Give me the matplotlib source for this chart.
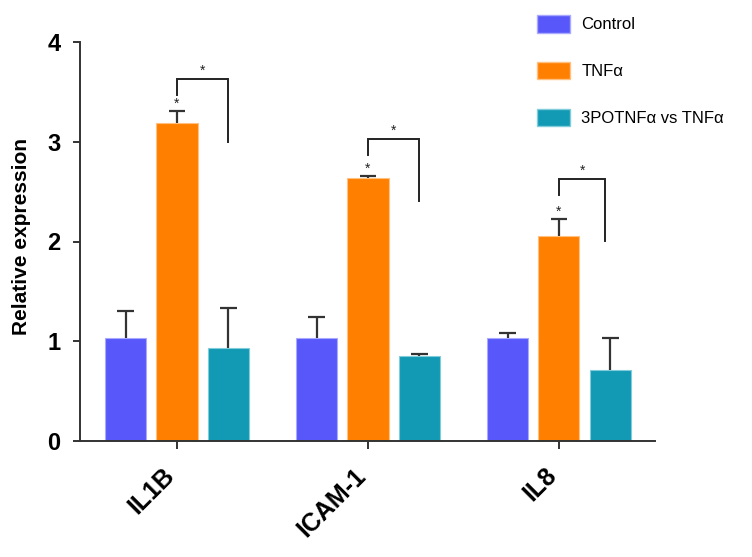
import matplotlib
matplotlib.use("Agg")
import matplotlib.pyplot as plt
from matplotlib.patches import Patch
from matplotlib.transforms import ScaledTranslation
import numpy as np

plt.rcParams['font.family'] = ['Liberation Sans', 'DejaVu Sans']

genes = ["IL1B", "ICAM-1", "IL8"]
series = ["Control", "TNF\u03b1", "3POTNF\u03b1 vs TNF\u03b1"]
control = [1.03, 1.035, 1.03]
control_err = [0.275, 0.205, 0.055]
tnf = [3.19, 2.64, 2.06]
tnf_err = [0.12, 0.02, 0.17]
po3 = [0.93, 0.85, 0.71]
po3_err = [0.40, 0.025, 0.325]
# significance brackets: top, left-leg bottom, right-leg bottom
br_top = [3.63, 3.03, 2.63]
br_left = [3.47, 2.87, 2.47]
br_right = [3.00, 2.41, 2.01]

colors = ["#5858FA", "#FF8000", "#1299B4"]
edgecols = ["#A9A9FF", "#FFC080", "#80CCDA"]

fig = plt.figure(figsize=(7.52, 5.57), dpi=100)
ax = fig.add_axes([80/752, 1-441/557, (655-80)/752, (441-42)/557])

x = np.arange(len(genes))
pitch = 0.268
width = 0.215
cap = 0.044
vals = [control, tnf, po3]
errs = [control_err, tnf_err, po3_err]
for i, (v, e) in enumerate(zip(vals, errs)):
    pos = x + (i-1)*pitch
    ax.bar(pos, v, width, color=colors[i], edgecolor=edgecols[i], linewidth=0.8,
           label=series[i], zorder=2)
    top = np.array(v) + np.array(e)
    ax.vlines(pos, v, top, color='#333333', lw=1.6, zorder=3)
    ax.hlines(top, pos - cap, pos + cap, color='#333333', lw=1.6, zorder=3)

for g in range(len(genes)):
    xl = x[g]
    xr = x[g] + pitch - (0.025 if g == 2 else 0)
    ax.plot([xl, xl, xr, xr], [br_left[g], br_top[g], br_top[g], br_right[g]],
            color='#222222', lw=1.4, zorder=3, solid_joinstyle='miter')
    ax.text((xl+xr)/2, br_top[g]+0.01, "*", ha='center', va='bottom', fontsize=10,
            color='#222222')
    ax.text(xl, tnf[g]+tnf_err[g]+0.0, "*", ha='center', va='bottom', fontsize=10,
            color='#222222')

ax.set_xlim(-0.508, 2.503)
ax.set_ylim(0, 4)
ax.set_yticks([0, 1, 2, 3, 4])
ax.set_yticklabels(["0", "1", "2", "3", "4"], fontsize=17, fontweight='bold')
ax.set_xticks(x)
ax.set_xticklabels([])
off = ScaledTranslation(-6/100, -31/100, fig.dpi_scale_trans)
for xi, g in zip(x, genes):
    ax.text(xi, 0, g, transform=ax.get_xaxis_transform() + off, fontsize=18,
            fontweight='bold', rotation=45, ha='right', va='center',
            rotation_mode='anchor', clip_on=False)
ax.tick_params(axis='y', length=5, width=1.4, pad=9, color='#333333')
ax.tick_params(axis='x', length=6, width=1.4, color='#333333')
for s in ['top', 'right']:
    ax.spines[s].set_visible(False)
for s in ['left', 'bottom']:
    ax.spines[s].set_linewidth(1.4)
    ax.spines[s].set_color('#333333')
ax.set_ylabel("Relative expression", fontsize=15, fontweight='bold')
ax.yaxis.set_label_coords(-0.085, 0.512)

handles = [Patch(facecolor=colors[i], edgecolor=edgecols[i]) for i in range(3)]
fig.legend(handles, series, loc='upper left', bbox_to_anchor=(522/752, 1-0/557),
           frameon=False, fontsize=12, handlelength=2.0, handleheight=1.25,
           labelspacing=1.75, handletextpad=0.65)

fig.savefig("out.png", dpi=100)
